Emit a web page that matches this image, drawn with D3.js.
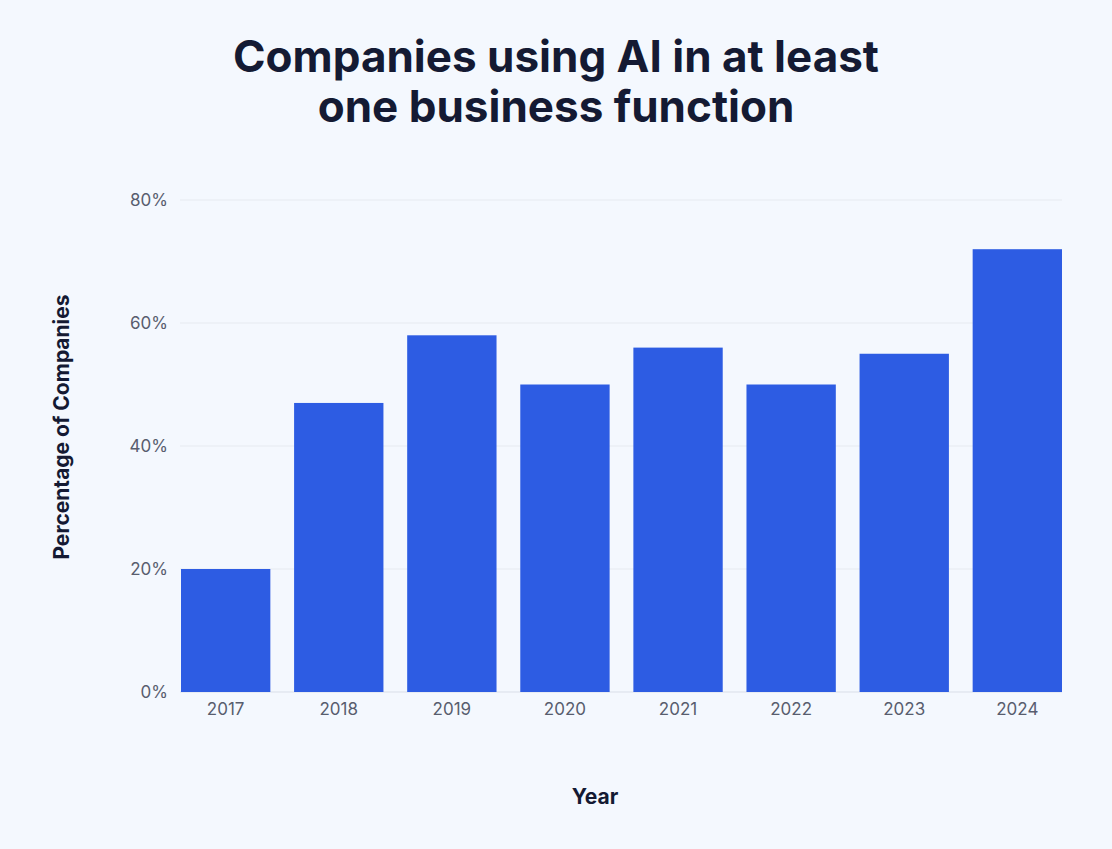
<!DOCTYPE html>
<html>
<head>
<meta charset="utf-8">
<script src="https://cdn.jsdelivr.net/npm/d3@7"></script>
<style>
  html, body { margin: 0; padding: 0; background: #f4f8fe; }
  svg { display: block; }
</style>
</head>
<body>
<svg id="chart" width="1112" height="849"></svg>
<script>
const years = ["2017", "2018", "2019", "2020", "2021", "2022", "2023", "2024"];
const percentages = [20, 47, 58, 50, 56, 50, 55, 72];
const yTicks = [0, 20, 40, 60, 80];
const titleLines = ["Companies using AI in at least", "one business function"];

(function () {
const svg = d3.select("#chart");
const W = 1112, H = 849;
const plotLeft = 181, plotRight = 1062, plotTop = 200, plotBottom = 692;

svg.append("rect").attr("width", W).attr("height", H).attr("fill", "#f4f8fe");

const x = d3.scaleBand().domain(years).range([plotLeft, plotRight]).paddingInner(0.21).paddingOuter(0);
const y = d3.scaleLinear().domain([0, 80]).range([plotBottom, plotTop]);

// Title
svg.append("g").selectAll("text").data(titleLines).join("text")
  .attr("x", 556).attr("y", (d, i) => 72 + i * 50)
  .attr("text-anchor", "middle")
  .attr("font-family", "Inter, 'Noto Sans', sans-serif")
  .attr("font-weight", 700).attr("font-size", 44)
  .attr("fill", "#141a33")
  .text(d => d);

// Grid lines
svg.append("g").selectAll("line").data(yTicks).join("line")
  .attr("x1", plotLeft - 1).attr("x2", plotRight)
  .attr("y1", d => y(d)).attr("y2", d => y(d))
  .attr("stroke", d => d === 0 ? "#d9dee8" : "#e6eaf0")
  .attr("stroke-width", 1);

// Y axis
const yAxis = svg.append("g").attr("transform", `translate(${plotLeft - 13},0)`)
  .call(d3.axisLeft(y).tickValues(yTicks).tickFormat(d => d + "%").tickSize(0).tickPadding(0));
yAxis.select(".domain").remove();
yAxis.selectAll("text")
  .attr("font-family", "Inter, 'Noto Sans', sans-serif")
  .attr("font-size", 17).attr("fill", "#585d6e");

// Bars
svg.append("g").selectAll("rect").data(years).join("rect")
  .attr("x", d => x(d)).attr("width", x.bandwidth())
  .attr("y", (d, i) => y(percentages[i]))
  .attr("height", (d, i) => plotBottom - y(percentages[i]))
  .attr("fill", "#2d5ce3");

// X axis
const xAxis = svg.append("g").attr("transform", `translate(0,${plotBottom + 11})`)
  .call(d3.axisBottom(x).tickSize(0).tickPadding(0));
xAxis.select(".domain").remove();
xAxis.selectAll("text")
  .attr("font-family", "Inter, 'Noto Sans', sans-serif")
  .attr("font-size", 17).attr("fill", "#585d6e");

// Axis titles
svg.append("text")
  .attr("x", 595).attr("y", 804)
  .attr("text-anchor", "middle")
  .attr("font-family", "Inter, 'Noto Sans', sans-serif")
  .attr("font-weight", 700).attr("font-size", 21)
  .attr("fill", "#141a33").text("Year");

svg.append("text")
  .attr("transform", "translate(69,427) rotate(-90)")
  .attr("text-anchor", "middle")
  .attr("font-family", "Inter, 'Noto Sans', sans-serif")
  .attr("font-weight", 700).attr("font-size", 21)
  .attr("fill", "#141a33").text("Percentage of Companies");
})();
</script>
</body>
</html>
